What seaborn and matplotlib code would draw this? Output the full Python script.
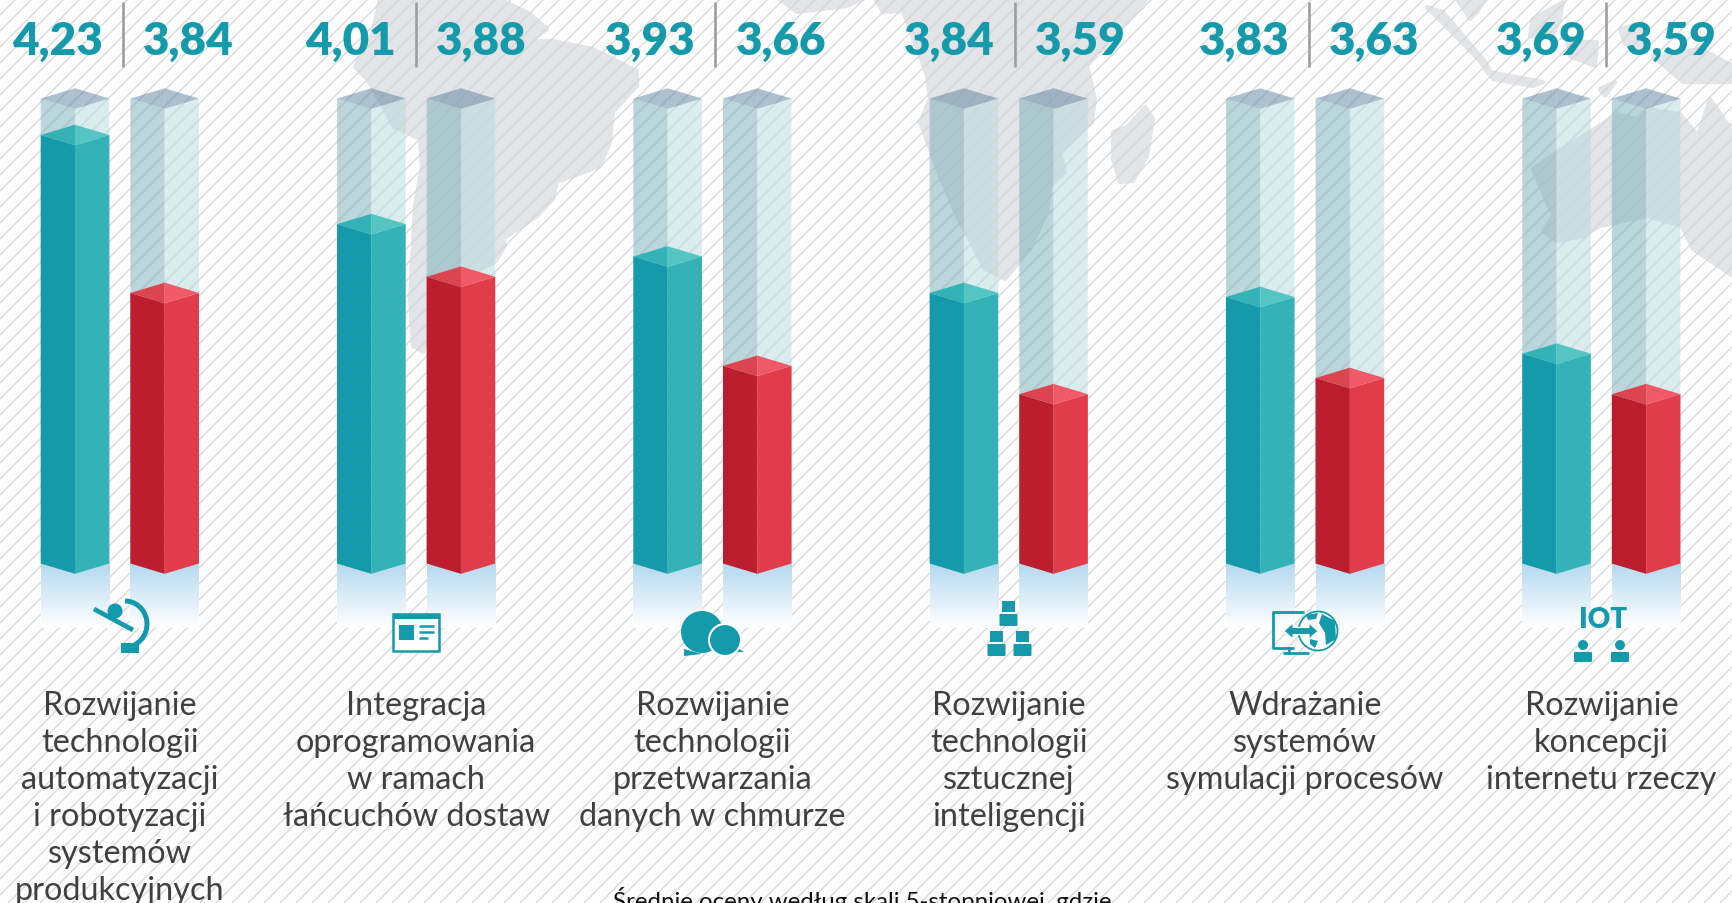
# slupki 3D - oceny technologii, dwie serie na kategorie

import numpy as np
import pandas as pd
import matplotlib
matplotlib.use('Agg')
import matplotlib.pyplot as plt
from matplotlib.patches import Polygon, Rectangle, Circle, Arc, FancyBboxPatch
from matplotlib.collections import LineCollection
import seaborn as sns

categories = ['Rozwijanie\ntechnologii\nautomatyzacji\ni robotyzacji\nsystemów\nprodukcyjnych',
              'Integracja\noprogramowania\nw ramach\nłańcuchów dostaw',
              'Rozwijanie\ntechnologii\nprzetwarzania\ndanych w chmurze',
              'Rozwijanie\ntechnologii\nsztucznej\ninteligencji',
              'Wdrażanie\nsystemów\nsymulacji procesów',
              'Rozwijanie\nkoncepcji\ninternetu rzeczy']
series_a = [4.23, 4.01, 3.93, 3.84, 3.83, 3.69]
series_b = [3.84, 3.88, 3.66, 3.59, 3.63, 3.59]
ghost_value = 4.32   # top of the empty glass column
base_value = 3.172   # where the columns stop, axis does not start at 0
footer = 'Średnie oceny według skali 5-stopniowej, gdzie'

TEAL = '#149aaa'
RED = '#bc1e2d'

sns.set_theme(style='white')
plt.rcParams['font.family'] = ['Lato', 'DejaVu Sans']

W, H = 1733, 904
fig = plt.figure(figsize=(W / 100, H / 100), dpi=100, facecolor='white')

# background: map and stripes, in pixels
bg = fig.add_axes([0, 0, 1, 1], zorder=0)
bg.set_xlim(0, W)
bg.set_ylim(H, 0)
bg.axis('off')

land = [
    [(380, 0), (500, 0), (530, 15), (547, 30), (530, 42), (553, 42), (593, 50), (637, 72), (637, 87), (613, 113),
     (610, 143), (600, 167), (557, 183), (553, 200), (537, 217), (503, 240), (505, 247), (495, 263),
     (470, 275), (445, 310), (423, 353), (413, 347), (410, 300), (415, 207), (422, 167), (420, 140),
     (393, 127), (385, 110), (367, 80), (355, 68), (372, 35)],
    [(780, 0), (797, 13), (847, 7), (863, 0)],
    [(875, 0), (883, 13), (903, 12), (927, 77), (930, 100), (920, 123), (930, 150), (940, 177), (957, 217),
     (985, 270), (1005, 280), (1030, 250), (1047, 213), (1050, 187), (1065, 173), (1060, 153), (1092, 123),
     (1095, 100), (1087, 67), (1127, 23), (1147, 0)],
    [(1145, 108), (1153, 120), (1147, 157), (1133, 182), (1120, 183), (1113, 160), (1113, 133), (1127, 128)],
    [(1427, 8), (1443, 13), (1487, 65), (1490, 73), (1543, 83), (1533, 87), (1493, 80), (1478, 60)],
    [(1457, 0), (1485, 0), (1477, 13), (1470, 20)],
    [(1533, 20), (1563, 3), (1560, 20), (1553, 37), (1530, 37)],
    [(1567, 43), (1597, 43), (1595, 67), (1570, 57)],
    [(1620, 30), (1640, 25), (1645, 50), (1625, 45)],
    [(1653, 57), (1700, 50), (1733, 67), (1733, 83), (1683, 83)],
    [(1600, 90), (1615, 83), (1605, 97)],
    [(1590, 133), (1617, 115), (1637, 120), (1647, 110), (1680, 115), (1698, 137), (1710, 100), (1733, 133),
     (1733, 277), (1693, 250), (1682, 227), (1647, 217), (1600, 227), (1583, 237), (1557, 242), (1543, 232),
     (1553, 217), (1533, 170), (1557, 153)],
]
for pts in land:
    bg.add_patch(Polygon(pts, closed=True, fc='#e3e4e7', ec='#e3e4e7', lw=3, joinstyle='round'))

stripes = [[(c, H), (c + H, 0)] for c in np.arange(-H, W, 16)]
bg.add_collection(LineCollection(stripes, colors='#d4d4d4', linewidths=0.85))

# main axes with the data
ax = fig.add_axes([0, 0, 1, 1], zorder=1)
ax.patch.set_alpha(0)

cols = pd.DataFrame({'kategoria': categories * 2,
                     'seria': ['a'] * 6 + ['b'] * 6,
                     'ocena': series_a + series_b})
glass = cols.copy()
glass['ocena'] = ghost_value

sns.barplot(data=glass, x='kategoria', y='ocena', hue='seria', width=0.6048, gap=0.2345,
            palette=['#bbd7dc', '#bbd7dc'], legend=False, ax=ax)
sns.barplot(data=cols, x='kategoria', y='ocena', hue='seria', width=0.6048, gap=0.2345,
            palette=[TEAL, RED], legend=False, ax=ax)

Y_SCALE = 405.0
y_top = 4.23 + 136 / Y_SCALE
dy = 10.3 / Y_SCALE


def box(rect, faces, z, alpha=1.0):
    x0 = rect.get_x()
    w = rect.get_width()
    xc = x0 + w / 2
    x1 = x0 + w
    v = rect.get_height()
    rect.set_visible(False)
    left, right, top_l, top_r = faces
    ax.add_patch(Polygon([(x0, v), (xc, v - dy), (xc, base_value - dy), (x0, base_value)], fc=left, ec='none', alpha=alpha, zorder=z))
    ax.add_patch(Polygon([(xc, v - dy), (x1, v), (x1, base_value), (xc, base_value - dy)], fc=right, ec='none', alpha=alpha, zorder=z))
    ax.add_patch(Polygon([(x0, v), (xc, v + dy), (xc, v - dy)], fc=top_l, ec='none', alpha=alpha, zorder=z))
    ax.add_patch(Polygon([(xc, v + dy), (x1, v), (xc, v - dy)], fc=top_r, ec='none', alpha=alpha, zorder=z))


conts = ax.containers
fade = np.linspace(0, 1, 64)[:, None, None] * np.array([1 - 0.71, 1 - 0.85, 1 - 0.94]) + np.array([0.71, 0.85, 0.94])
for rect in list(conts[0]) + list(conts[1]):
    ax.imshow(fade, extent=(rect.get_x(), rect.get_x() + rect.get_width(), base_value - 65 / Y_SCALE, base_value),
              aspect='auto', interpolation='bilinear', zorder=2)
    box(rect, ('#78afb9', '#b7dadc', '#5a82a0', '#5a82a0'), 2.5, alpha=0.5)
for rect in conts[2]:
    box(rect, (TEAL, '#33b2b8', '#33b2b8', '#55c5c3'), 3)
for rect in conts[3]:
    box(rect, (RED, '#e03c49', '#dc4450', '#f05a68'), 3)

ax.set_xlim(-119.85 / 296.3, (W - 119.85) / 296.3)
ax.set_ylim(y_top - H / Y_SCALE, y_top)
ax.axis('off')

# foreground in pixels again
fg = fig.add_axes([0, 0, 1, 1], zorder=2)
fg.patch.set_alpha(0)
fg.set_xlim(0, W)
fg.set_ylim(H, 0)
fg.axis('off')

sep_shift = [3, 0, 3, 6, 4, 5]
for i in range(6):
    xc = ax.transData.transform((i, 0))[0]
    xs = xc + sep_shift[i]
    fg.plot([xs, xs], [3, 68], color='#9a9ea3', lw=1.9, solid_capstyle='butt')
    fg.text(xs - 20, 55, f'{series_a[i]:.2f}'.replace('.', ','), ha='right', va='baseline', color=TEAL, fontsize=33, fontweight='heavy')
    fg.text(xs + 20, 55, f'{series_b[i]:.2f}'.replace('.', ','), ha='left', va='baseline', color=TEAL, fontsize=33, fontweight='heavy')
    fg.text(xc, 691, categories[i], ha='center', va='top', color='#404040', fontsize=23.3, linespacing=1.295)

fg.text(862, 887, footer, ha='center', va='top', color='#111111', fontsize=17.3)

# icons, rough versions
# microscope
fg.add_patch(Rectangle((121, 644), 18, 10, fc=TEAL, ec='none'))
fg.add_patch(Arc((125, 625), 44, 46, theta1=-90, theta2=65, ec=TEAL, lw=3.6))
fg.plot([94, 133], [610, 631], color=TEAL, lw=3.4, solid_capstyle='butt')
fg.add_patch(Circle((115, 612), 7.5, fc=TEAL, ec='none'))
# newspaper
fg.add_patch(Rectangle((393, 615), 46, 37, fc='white', ec=TEAL, lw=1.8))
fg.add_patch(Rectangle((393, 615), 46, 5, fc=TEAL, ec='none'))
fg.add_patch(Rectangle((399, 626), 15, 15, fc=TEAL, ec='none'))
for y, x1 in [(627, 434), (633, 434), (639, 428)]:
    fg.plot([419, x1], [y, y], color=TEAL, lw=1.8, solid_capstyle='butt')
# chat
fg.add_patch(Polygon([(684, 650), (684, 657), (702, 655)], fc=TEAL, ec='none'))
fg.add_patch(Polygon([(736, 648), (744, 653), (728, 653)], fc=TEAL, ec='none'))
fg.add_patch(Circle((702, 633), 21, fc=TEAL, ec='none'))
fg.add_patch(Circle((725, 641), 16, fc=TEAL, ec='white', lw=1.5))
# boxes
for x, y in [(1008.5, 602), (996.5, 632), (1022.5, 632)]:
    fg.add_patch(Rectangle((x - 6.5, y), 13, 11, fc=TEAL, ec='none'))
    fg.add_patch(FancyBboxPatch((x - 8, y + 14), 16, 10, boxstyle='round,pad=1', fc=TEAL, ec='none'))
# monitor and globe
fg.plot([1303, 1273, 1273, 1293], [613, 613, 649, 649], color=TEAL, lw=2)
fg.plot([1289, 1289], [649, 654], color=TEAL, lw=2)
fg.plot([1284, 1308], [654, 654], color=TEAL, lw=2)
fg.add_patch(Circle((1318, 632), 19.5, fc='white', ec=TEAL, lw=1.3))
fg.add_patch(Polygon([(1322, 615), (1335, 622), (1336, 640), (1326, 646), (1325, 634), (1319, 624)], fc=TEAL, ec='none'))
fg.add_patch(Polygon([(1310, 640), (1318, 642), (1315, 649), (1310, 645)], fc=TEAL, ec='none'))
fg.add_patch(Polygon([(1306, 616), (1318, 614), (1316, 620), (1308, 621)], fc=TEAL, ec='none'))
fg.add_patch(Polygon([(1284, 632), (1293, 624), (1293, 628.5), (1309, 628.5), (1309, 624), (1318, 632),
                      (1309, 640), (1309, 635.5), (1293, 635.5), (1293, 640)], fc=TEAL, ec='white', lw=0.8))
# IOT
fg.text(1603, 628, 'IOT', ha='center', va='baseline', color=TEAL, fontsize=20, fontweight='heavy')
for x in [1583, 1620]:
    fg.add_patch(Circle((x, 646), 5, fc=TEAL, ec='none'))
    fg.add_patch(FancyBboxPatch((x - 8, 654), 16, 8, boxstyle='round,pad=1', fc=TEAL, ec='none'))

fig.savefig('out.png', dpi=100, facecolor='white')
